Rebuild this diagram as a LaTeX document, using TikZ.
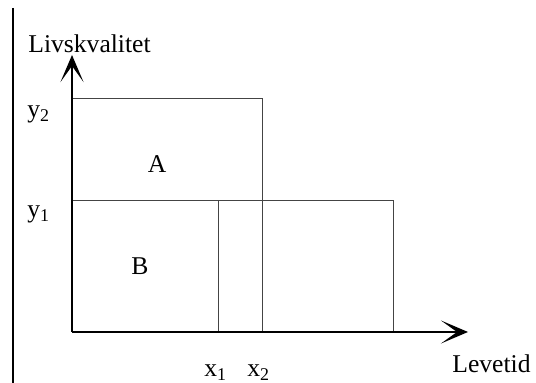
\documentclass[tikz,border=0pt]{standalone}
\usepackage{fontspec}
\setmainfont{Liberation Serif}
\usetikzlibrary{arrows.meta, positioning}
\definecolor{boxgray}{HTML}{444444}

\begin{document}
\begin{tikzpicture}[
  x=0.5pt, y=-0.5pt,
  lbl/.style={font=\fontsize{12.8}{15}\selectfont, inner sep=0pt},
  axis/.style={-{Stealth[length=13.5pt, width=11.5pt, inset=8pt]}, black, line width=0.8pt},
  box/.style={draw=boxgray, line width=0.5pt}
]
\useasboundingbox (0,0) rectangle (536,383);
% frame line on the left
\draw[line width=0.6pt] (13,8) -- (13,383);

% corners
\coordinate (o) at (72,332);
\coordinate (ytip) at (72,55);
\coordinate (xtip) at (468,332);
\coordinate (a2) at (72,99);
\coordinate (b2) at (262,99);
\coordinate (a1) at (72,201);
\coordinate (c1) at (218,201);
\coordinate (d1) at (393,201);
\coordinate (c0) at (218,332);
\coordinate (b0) at (262,332);
\coordinate (d0) at (393,332);

\draw[box] (a2) -- (b2) -- (b0);
\draw[box] (a1) -- (d1) -- (d0);
\draw[box] (c1) -- (c0);
\draw[axis] (o) -- (ytip);
\draw[axis] (o) -- (xtip);

\node[lbl, anchor=base west] (ylab) at (28,53) {Livskvalitet};
\node[lbl, anchor=base west] (y2) at (27,118) {y\textsubscript{2}};
\node[lbl, anchor=base west] (y1) at (27,218) {y\textsubscript{1}};
\node[lbl, anchor=base] (A) at (157,173) {A};
\node[lbl, anchor=base] (B) at (140,275) {B};
\node[lbl, anchor=base west] (x1) at (204,377) {x\textsubscript{1}};
\node[lbl, anchor=base west] (x2) at (247,377) {x\textsubscript{2}};
\node[lbl, anchor=base west] (xlab) at (452,373) {Levetid};
\end{tikzpicture}
\end{document}
